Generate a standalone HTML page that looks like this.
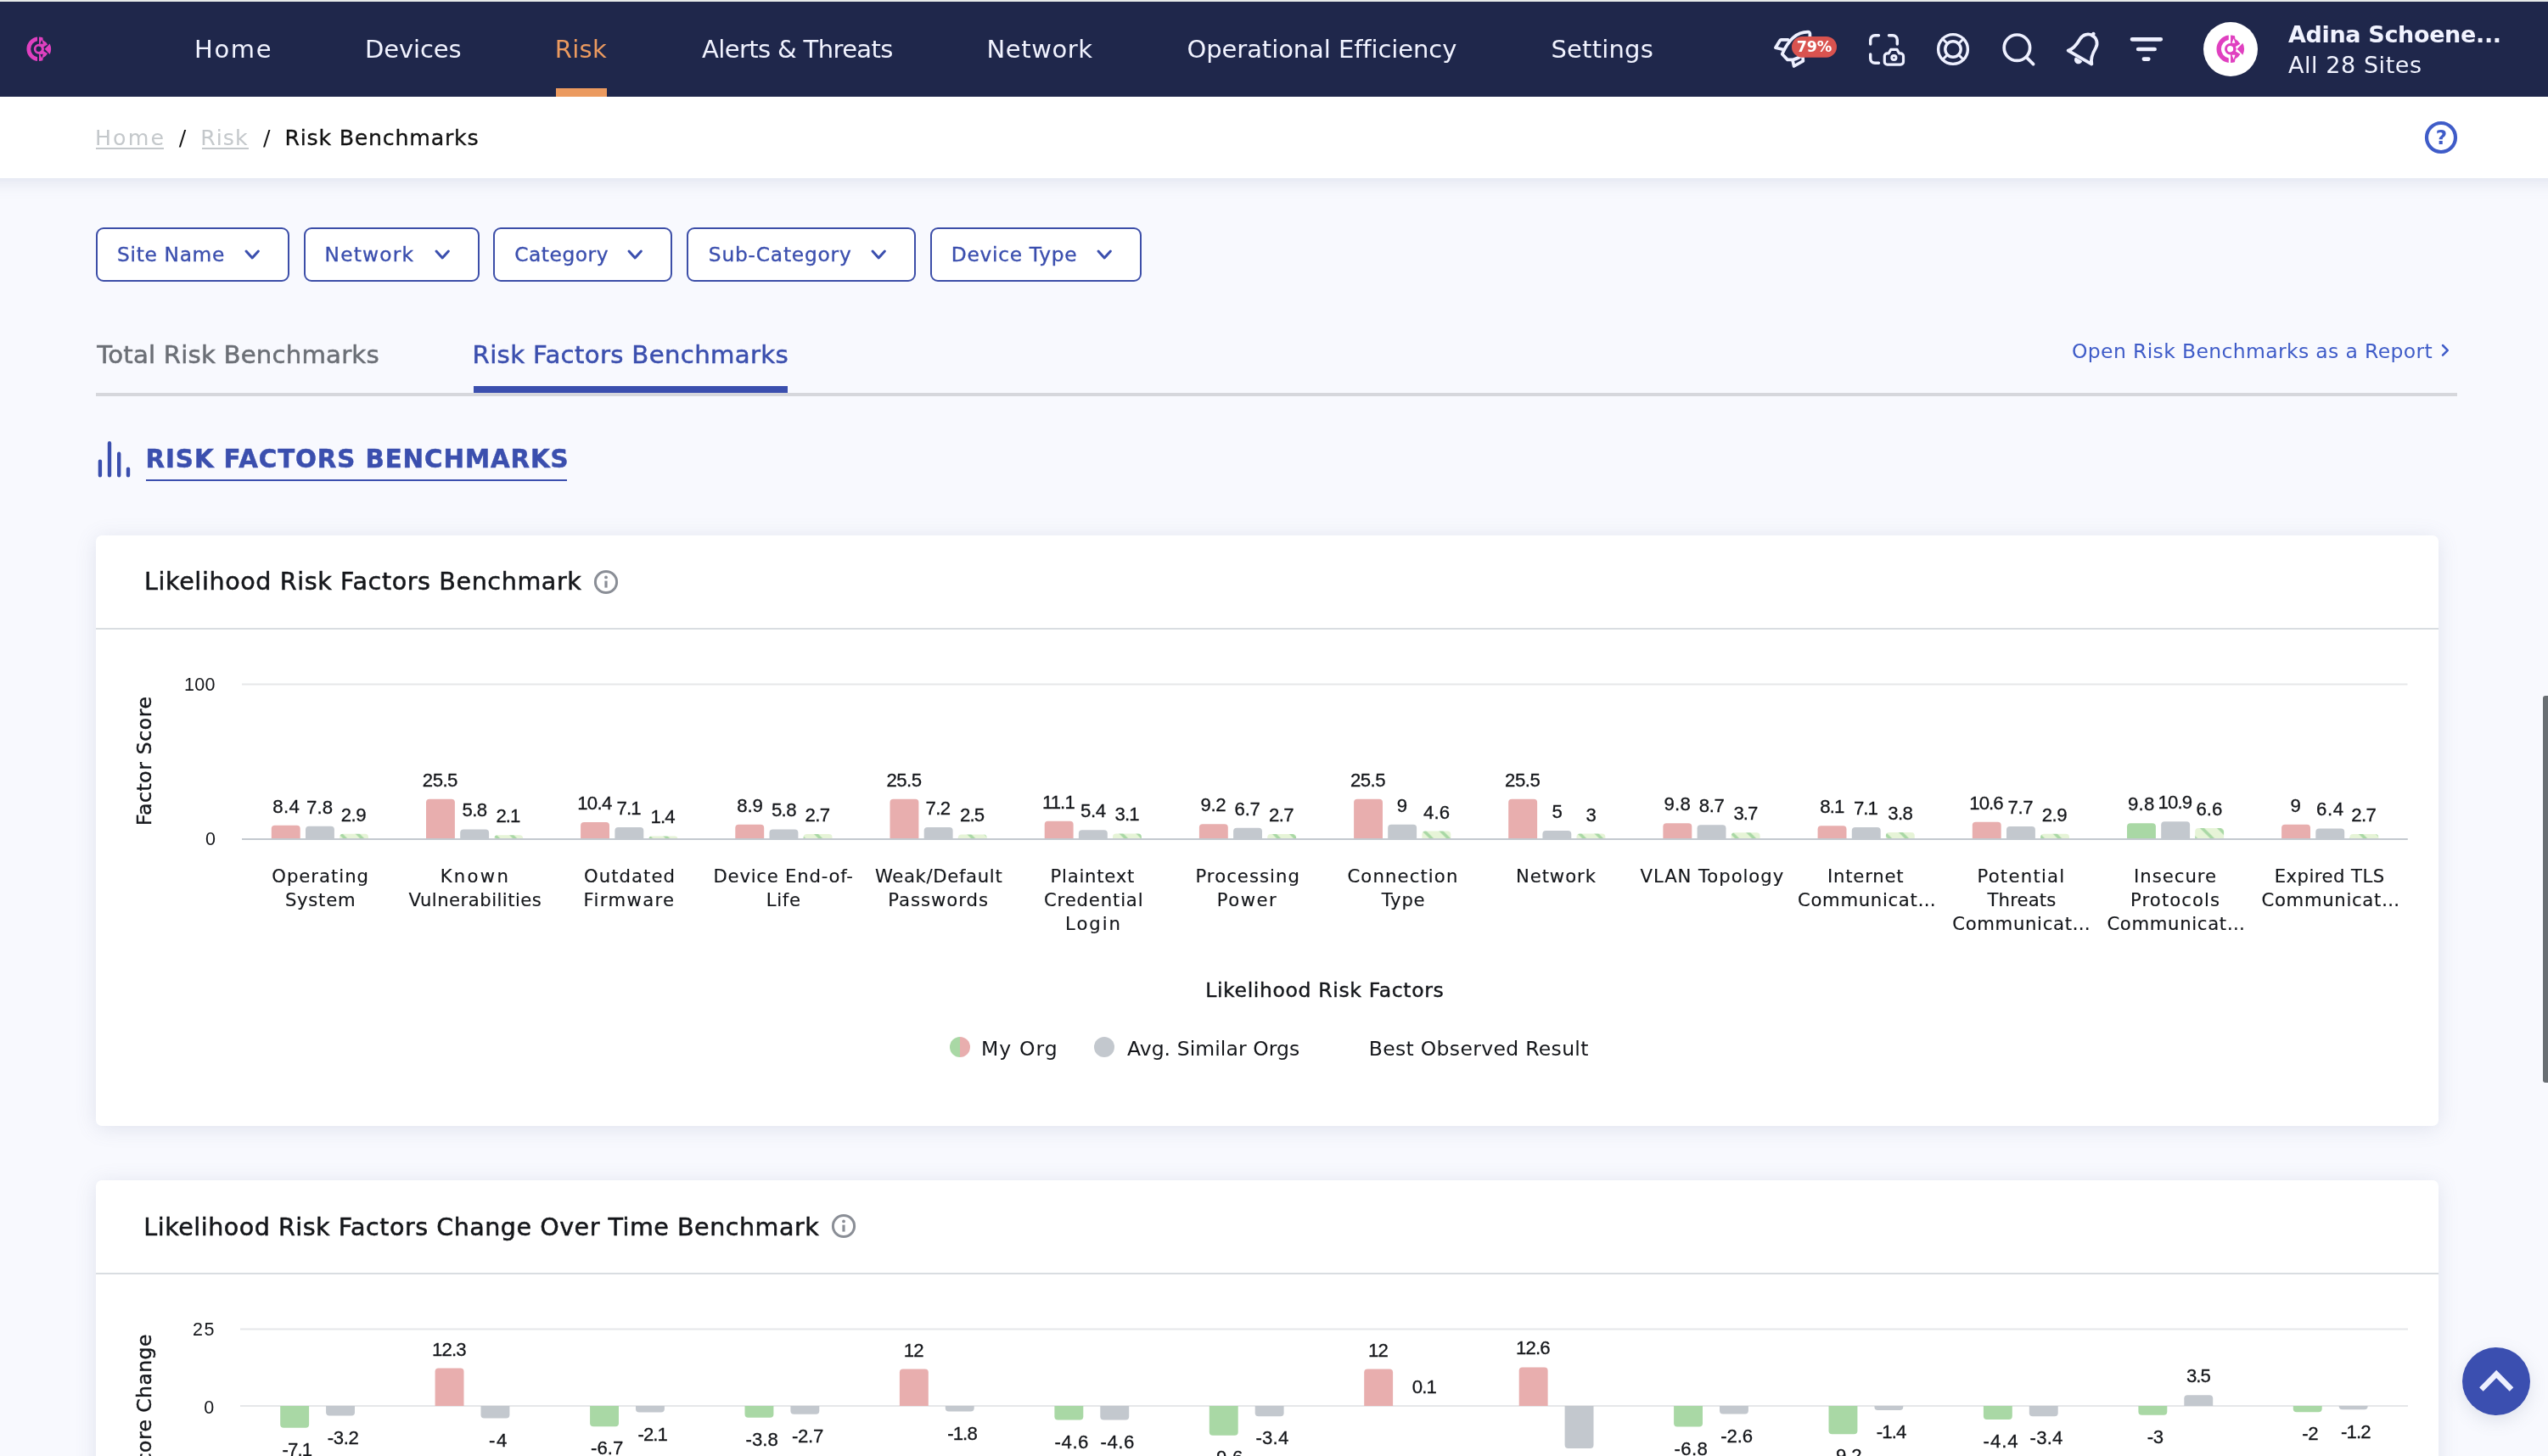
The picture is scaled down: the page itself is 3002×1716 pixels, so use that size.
<!DOCTYPE html>
<html lang="en"><head><meta charset="utf-8"><title>Risk Benchmarks</title>
<style>
*{box-sizing:border-box;margin:0;padding:0}
html,body{width:3002px;height:1716px;overflow:hidden}
body{position:relative;background:#f8f9fe;font-family:"DejaVu Sans", "Liberation Sans", sans-serif;color:#14161a}
.abs,.t,i,.fbtn,.avatar{position:absolute;display:block}
.t{white-space:nowrap;line-height:1;font-weight:400;font-style:normal;text-decoration:none;margin:0}
i{font-style:normal}
.app{position:absolute;left:0;top:0;width:3002px;height:1716px;will-change:transform}
.topstrip{position:absolute;left:0;top:0;width:3002px;height:2px;background:#e6eae9}
header.nav{z-index:3;position:absolute;left:0;top:2px;width:3002px;height:112px;background:#1f274b}
.navbar-active{background:#eb9a5f}
.logo{color:#e040c0}
.avatar{width:64px;height:64px;border-radius:50%;background:#fff}
.crumbs{position:absolute;left:0;top:114px;width:3002px;height:96px;background:#fff;z-index:2}
.crumbs::after{content:"";position:absolute;left:-80px;right:-80px;top:0;bottom:0;box-shadow:0 3px 20px rgba(100,115,160,.18);z-index:-1}
.ul{height:2.2px;background:#c4c8cb}
.fbtn{height:63.5px;border:2.2px solid #3c4ea8;border-radius:9px;background:#fff;font-family:inherit;cursor:pointer}
.fbtn .t,.fbtn .abs{margin-left:-2.2px;margin-top:-2.2px}
.tabline{height:4px;background:#d6d7dc}
.tabon{height:8px;background:#3b4fae}
.card{position:absolute;background:#fff;border-radius:7px;box-shadow:0 3px 24px rgba(100,110,150,.16)}
.divider{left:0;width:100%;height:2px;background:#d9dde1}
.lg{width:24px;height:24px;border-radius:50%}
.rot{transform-origin:0 0;transform:rotate(-90deg)}
.totop{box-shadow:0 6px 20px rgba(100,110,140,.17);position:absolute;left:2901px;top:1588px;width:80px;height:80px;border-radius:50%;background:#3b4fb0}
.sbthumb{position:absolute;left:2996px;top:820px;width:6px;height:456px;background:#696e73;border-radius:3px 0 0 3px}
</style></head>
<body>
<div class="app">
<div class="topstrip"></div>
<header class="nav">
<a class="t navlink" style="left:229.0px;top:42px;font-size:29px;letter-spacing:1.63px;color:#f1f3ff;">Home</a>
<a class="t navlink" style="left:430.0px;top:42px;font-size:29px;letter-spacing:-0.10px;color:#f1f3ff;">Devices</a>
<a class="t navlink active" style="left:653.7px;top:42px;font-size:29px;letter-spacing:0.33px;color:#eb9a5f;">Risk</a>
<a class="t navlink" style="left:827.0px;top:42px;font-size:29px;letter-spacing:-0.62px;color:#f1f3ff;">Alerts &amp; Threats</a>
<a class="t navlink" style="left:1162.6px;top:42px;font-size:29px;letter-spacing:0.55px;color:#f1f3ff;">Network</a>
<a class="t navlink" style="left:1398.5px;top:42px;font-size:29px;letter-spacing:-0.08px;color:#f1f3ff;">Operational Efficiency</a>
<a class="t navlink" style="left:1827.4px;top:42px;font-size:29px;letter-spacing:0.21px;color:#f1f3ff;">Settings</a>
<i class="navbar-active" style="left:654.6px;top:102px;width:60.4px;height:10px"></i>
<svg class="abs logo" style="left:31.2px;top:41.2px" width="29.5" height="29.5" viewBox="0 0 34 34" fill="currentColor"><path d="M15,.62A16.5,16.5 0 0 0 15,33.38L15,27.9A11.1,11.1 0 0 1 15,6.1Z"/><circle cx="17" cy="17" r="5.3" fill="none" stroke="currentColor" stroke-width="3.1"/><path fill-rule="evenodd" d="M17.3,.5A16.5,16.5 0 0 1 22.3,1.37L22.83,5.05A13.3,13.3 0 0 1 28.85,10.96L23.3,14.3A6.85,6.85 0 0 1 23.3,19.7L28.85,23.04A13.3,13.3 0 0 1 22.83,28.95L22.3,32.63A16.5,16.5 0 0 1 17.3,33.5Z M21,4.6L18.8,9.9 22.8,10Z M21,29.4L18.8,24.1 22.8,24Z M17.3,13.27A3.75,3.75 0 0 1 17.3,20.73Z"/><path d="M25,17L31.83,9.77A16.5,16.5 0 0 1 31.83,24.23Z"/></svg>
<svg class="abs" style="left:2080px;top:0" width="500" height="112" viewBox="2080 2 500 112">
<g fill="none" stroke="#eef0ff" stroke-width="3.4" stroke-linecap="round" stroke-linejoin="round">
<!-- rocket -->
<g stroke-width="3.7">
<path d="M2132.4,44V39.7a2.1,2.1 0 0 0 -2.1,-2.1C2117.5,37.4 2107.5,46 2099.7,63.8L2106,70.4H2112.5C2121,68.5 2128,62 2131,52"/>
<path d="M2106.6,46.8H2098.6a1.7,1.7 0 0 0 -1.5,.9L2091.9,56.2L2100.6,58.2"/>
<path d="M2112,70.8L2113.6,78L2124.4,71.8L2124,66.5"/>
</g>
<!-- scan camera -->
<path d="M2203.7,52v-5a5.3,5.3 0 0 1 5.3,-5.3h4.5M2225.5,41.7h4.5a5.3,5.3 0 0 1 5.3,5.3v5M2203.7,64v5a5.3,5.3 0 0 0 5.3,5.3h4.5"/>
<path d="M2220.3,66.2a3.4,3.4 0 0 1 3.4,-3.4h1.6l2.4,-4.4h7.4l2.4,4.4h1.6a3.4,3.4 0 0 1 3.4,3.4v6.6a3.4,3.4 0 0 1 -3.4,3.4h-15.4a3.4,3.4 0 0 1 -3.4,-3.4z" stroke-width="3.2"/>
<circle cx="2231.4" cy="68" r="2.6" stroke-width="3"/>
<!-- lifebuoy -->
<circle cx="2301" cy="58" r="17.4"/><circle cx="2301" cy="58" r="9.2"/>
<path d="M2288.7,45.7l5.8,5.8M2313.3,45.7l-5.8,5.8M2288.7,70.3l5.8,-5.8M2313.3,70.3l-5.8,-5.8" stroke-width="3"/>
<!-- search -->
<circle cx="2376.4" cy="56.2" r="15.2" stroke-width="3.7"/><path d="M2387.6,67.6l8,8" stroke-width="3.7"/>
<!-- bell -->
<g transform="translate(2457.5,55.4) rotate(30)" stroke-width="3.8">
<path d="M-16,14C-11.5,9.5 -10.6,2 -10.6,-5a10.6,10.6 0 0 1 21.2,0C10.6,2 11.5,9.5 16,14Z"/>
<path d="M0,-15.6v-2.2" stroke-width="4.4"/>
<path d="M-3.6,17.6a3.6,3.4 0 0 0 7.2,0Z" fill="#eef0ff" stroke-width="2.4"/>
</g>
<!-- filter -->
<path d="M2512,46.3h33.8M2519.2,58h19.4M2525.9,69.6h5.4" stroke-width="4.7"/>
</g>
<rect x="2111" y="43" width="53" height="24.7" rx="12.3" fill="#d9534f"/>
</svg>
<span class="t badge" style="left:2116.7px;top:45px;font-size:17.5px;letter-spacing:-0.18px;font-weight:700;color:#fff;">79%</span>
<span class="avatar" style="left:2596px;top:24px"></span>
<svg class="abs logo" style="left:2611.3px;top:39.4px" width="33.5" height="33.5" viewBox="0 0 34 34" fill="currentColor"><path d="M15,.62A16.5,16.5 0 0 0 15,33.38L15,27.9A11.1,11.1 0 0 1 15,6.1Z"/><circle cx="17" cy="17" r="5.3" fill="none" stroke="currentColor" stroke-width="3.1"/><path fill-rule="evenodd" d="M17.3,.5A16.5,16.5 0 0 1 22.3,1.37L22.83,5.05A13.3,13.3 0 0 1 28.85,10.96L23.3,14.3A6.85,6.85 0 0 1 23.3,19.7L28.85,23.04A13.3,13.3 0 0 1 22.83,28.95L22.3,32.63A16.5,16.5 0 0 1 17.3,33.5Z M21,4.6L18.8,9.9 22.8,10Z M21,29.4L18.8,24.1 22.8,24Z M17.3,13.27A3.75,3.75 0 0 1 17.3,20.73Z"/><path d="M25,17L31.83,9.77A16.5,16.5 0 0 1 31.83,24.23Z"/></svg>
<span class="t uname" style="left:2696.0px;top:25px;font-size:27px;letter-spacing:-0.34px;font-weight:700;color:#f1f3ff;">Adina Schoene...</span>
<span class="t usite" style="left:2696.0px;top:61px;font-size:27px;letter-spacing:0.56px;color:#f1f3ff;">All 28 Sites</span>
</header>
<div class="crumbs">
<a class="t crumb" style="left:112.0px;top:36px;font-size:25.3px;letter-spacing:2.09px;color:#c4c8cb;">Home</a>
<i class="ul" style="left:113px;top:59.5px;width:80px"></i>
<span class="t sep" style="left:210.7px;top:36px;font-size:25.3px;color:#111;">/</span>
<a class="t crumb" style="left:236.2px;top:36px;font-size:25.3px;letter-spacing:1.01px;color:#c4c8cb;">Risk</a>
<i class="ul" style="left:237.5px;top:59.5px;width:55px"></i>
<span class="t sep" style="left:309.9px;top:36px;font-size:25.3px;color:#111;">/</span>
<span class="t cur" style="left:335.5px;top:36px;font-size:25.3px;letter-spacing:0.74px;color:#111;-webkit-text-stroke:0.3px currentColor;">Risk Benchmarks</span>
<svg class="abs" style="left:2854px;top:26px" width="44" height="44" viewBox="2854 140 44 44"><circle cx="2876" cy="162" r="17" fill="none" stroke="#3f5cc8" stroke-width="4.2"/></svg>
<span class="t q" style="left:2869.7px;top:37px;font-size:23px;font-weight:700;color:#3f5cc8;">?</span>
</div>
<main>
<button class="fbtn" style="left:113px;top:268px;width:228px"><span class="t" style="left:25.3px;top:20px;font-size:23.3px;letter-spacing:0.66px;color:#3b4fae;-webkit-text-stroke:0.35px currentColor;">Site Name</span>
<svg class="abs" style="left:174.0px;top:25.4px" width="20.4" height="14.0" viewBox="-3 -3 20.4 14.0"><path d="M0,0L7.2,8L14.4,0" fill="none" stroke="#3b4fae" stroke-width="3" stroke-linecap="round" stroke-linejoin="round"/></svg></button>
<button class="fbtn" style="left:357.5px;top:268px;width:207.0px"><span class="t" style="left:25.3px;top:20px;font-size:23.3px;letter-spacing:1.17px;color:#3b4fae;-webkit-text-stroke:0.35px currentColor;">Network</span>
<svg class="abs" style="left:153.8px;top:25.4px" width="20.4" height="14.0" viewBox="-3 -3 20.4 14.0"><path d="M0,0L7.2,8L14.4,0" fill="none" stroke="#3b4fae" stroke-width="3" stroke-linecap="round" stroke-linejoin="round"/></svg></button>
<button class="fbtn" style="left:581px;top:268px;width:211px"><span class="t" style="left:25.4px;top:20px;font-size:23.3px;letter-spacing:0.55px;color:#3b4fae;-webkit-text-stroke:0.35px currentColor;">Category</span>
<svg class="abs" style="left:157.6px;top:25.4px" width="20.4" height="14.0" viewBox="-3 -3 20.4 14.0"><path d="M0,0L7.2,8L14.4,0" fill="none" stroke="#3b4fae" stroke-width="3" stroke-linecap="round" stroke-linejoin="round"/></svg></button>
<button class="fbtn" style="left:809px;top:268px;width:269.5px"><span class="t" style="left:26.0px;top:20px;font-size:23.3px;letter-spacing:0.80px;color:#3b4fae;-webkit-text-stroke:0.35px currentColor;">Sub-Category</span>
<svg class="abs" style="left:215.9px;top:25.4px" width="20.4" height="14.0" viewBox="-3 -3 20.4 14.0"><path d="M0,0L7.2,8L14.4,0" fill="none" stroke="#3b4fae" stroke-width="3" stroke-linecap="round" stroke-linejoin="round"/></svg></button>
<button class="fbtn" style="left:1095.5px;top:268px;width:249.0px"><span class="t" style="left:25.5px;top:20px;font-size:23.3px;letter-spacing:0.71px;color:#3b4fae;-webkit-text-stroke:0.35px currentColor;">Device Type</span>
<svg class="abs" style="left:195.5px;top:25.4px" width="20.4" height="14.0" viewBox="-3 -3 20.4 14.0"><path d="M0,0L7.2,8L14.4,0" fill="none" stroke="#3b4fae" stroke-width="3" stroke-linecap="round" stroke-linejoin="round"/></svg></button>
<a class="t tab" style="left:114.2px;top:404px;font-size:29.2px;letter-spacing:0.19px;color:#6b6f76;-webkit-text-stroke:0.5px currentColor;">Total Risk Benchmarks</a>
<a class="t tab on" style="left:556.6px;top:404px;font-size:29.2px;letter-spacing:0.32px;color:#3b4fae;-webkit-text-stroke:0.5px currentColor;">Risk Factors Benchmarks</a>
<i class="tabline" style="left:113px;top:463px;width:2782px"></i>
<i class="tabon" style="left:558px;top:455px;width:370px"></i>
<a class="t rlink" style="left:2441.0px;top:403px;font-size:23.5px;letter-spacing:0.35px;color:#3f5cc8;">Open Risk Benchmarks as a Report</a>
<svg class="abs" style="left:2874px;top:403px" width="14" height="20" viewBox="2874 403 14 20"><path d="M2878,407l5.8,5.8l-5.8,5.8" fill="none" stroke="#3f5cc8" stroke-width="2.5" stroke-linecap="round" stroke-linejoin="round"/></svg>
<svg class="abs" style="left:112px;top:516px" width="46" height="50" viewBox="112 516 46 50"><path d="M117.9,543.6V560.2M129,522.2V560.2M140.2,534.8V560.2M151,552.6V560.2" fill="none" stroke="#3b4fae" stroke-width="4.4" stroke-linecap="round"/></svg>
<h1 class="t h1" style="left:171.6px;top:527px;font-size:29.3px;letter-spacing:0.91px;font-weight:700;color:#3b4fae;-webkit-text-stroke:0.5px currentColor;">RISK FACTORS BENCHMARKS</h1>
<i class="abs" style="left:172.2px;top:564.6px;width:496px;height:2.2px;background:#3b4fae"></i>
<section class="card" style="left:113px;top:631px;width:2760px;height:696px">
<svg class="abs chart" style="left:0;top:0" width="2760" height="696" viewBox="113 631 2760 696">
<defs><pattern id="hatch" width="20" height="20" patternUnits="userSpaceOnUse" patternTransform="translate(0,1.5)"><rect width="20" height="20" fill="#e6f4d7"/><path d="M-5,-5L25,25M-5,15L5,25M15,-5L25,5" stroke="#a9d8a5" stroke-width="3.7"/></pattern></defs>
<path d="M285,806.5H2836.5" stroke="#e6e7e9" stroke-width="2"/>
<path d="M319.8,988.6V976.7a4.0,4.0 0 0 1 4.0,-4.0h25.9a4.0,4.0 0 0 1 4.0,4.0V988.6z" fill="#e8aeae"/>
<path d="M360.0,988.6V977.8a4.0,4.0 0 0 1 4.0,-4.0h25.9a4.0,4.0 0 0 1 4.0,4.0V988.6z" fill="#c3c8ce"/>
<path d="M400.1,988.6V986.7a4.0,4.0 0 0 1 4.0,-4.0h25.9a4.0,4.0 0 0 1 4.0,4.0V988.6z" fill="url(#hatch)"/>
<path d="M502.0,988.6V945.7a4.0,4.0 0 0 1 4.0,-4.0h25.9a4.0,4.0 0 0 1 4.0,4.0V988.6z" fill="#e8aeae"/>
<path d="M542.2,988.6V981.5a4.0,4.0 0 0 1 4.0,-4.0h25.9a4.0,4.0 0 0 1 4.0,4.0V988.6z" fill="#c3c8ce"/>
<path d="M582.3,988.6V988.2a4.0,4.0 0 0 1 4.0,-4.0h25.9a4.0,4.0 0 0 1 4.0,4.0V988.6z" fill="url(#hatch)"/>
<path d="M684.1,988.6V973.1a4.0,4.0 0 0 1 4.0,-4.0h25.9a4.0,4.0 0 0 1 4.0,4.0V988.6z" fill="#e8aeae"/>
<path d="M724.4,988.6V979.1a4.0,4.0 0 0 1 4.0,-4.0h25.9a4.0,4.0 0 0 1 4.0,4.0V988.6z" fill="#c3c8ce"/>
<path d="M764.5,988.6V988.6a3.1,3.1 0 0 1 3.1,-3.1h27.6a3.1,3.1 0 0 1 3.1,3.1V988.6z" fill="url(#hatch)"/>
<path d="M866.3,988.6V975.8a4.0,4.0 0 0 1 4.0,-4.0h25.9a4.0,4.0 0 0 1 4.0,4.0V988.6z" fill="#e8aeae"/>
<path d="M906.5,988.6V981.5a4.0,4.0 0 0 1 4.0,-4.0h25.9a4.0,4.0 0 0 1 4.0,4.0V988.6z" fill="#c3c8ce"/>
<path d="M946.6,988.6V987.1a4.0,4.0 0 0 1 4.0,-4.0h25.9a4.0,4.0 0 0 1 4.0,4.0V988.6z" fill="url(#hatch)"/>
<path d="M1048.5,988.6V945.7a4.0,4.0 0 0 1 4.0,-4.0h25.9a4.0,4.0 0 0 1 4.0,4.0V988.6z" fill="#e8aeae"/>
<path d="M1088.7,988.6V978.9a4.0,4.0 0 0 1 4.0,-4.0h25.9a4.0,4.0 0 0 1 4.0,4.0V988.6z" fill="#c3c8ce"/>
<path d="M1128.8,988.6V987.5a4.0,4.0 0 0 1 4.0,-4.0h25.9a4.0,4.0 0 0 1 4.0,4.0V988.6z" fill="url(#hatch)"/>
<path d="M1230.7,988.6V971.8a4.0,4.0 0 0 1 4.0,-4.0h25.9a4.0,4.0 0 0 1 4.0,4.0V988.6z" fill="#e8aeae"/>
<path d="M1270.9,988.6V982.2a4.0,4.0 0 0 1 4.0,-4.0h25.9a4.0,4.0 0 0 1 4.0,4.0V988.6z" fill="#c3c8ce"/>
<path d="M1311.0,988.6V986.4a4.0,4.0 0 0 1 4.0,-4.0h25.9a4.0,4.0 0 0 1 4.0,4.0V988.6z" fill="url(#hatch)"/>
<path d="M1412.9,988.6V975.3a4.0,4.0 0 0 1 4.0,-4.0h25.9a4.0,4.0 0 0 1 4.0,4.0V988.6z" fill="#e8aeae"/>
<path d="M1453.1,988.6V979.8a4.0,4.0 0 0 1 4.0,-4.0h25.9a4.0,4.0 0 0 1 4.0,4.0V988.6z" fill="#c3c8ce"/>
<path d="M1493.2,988.6V987.1a4.0,4.0 0 0 1 4.0,-4.0h25.9a4.0,4.0 0 0 1 4.0,4.0V988.6z" fill="url(#hatch)"/>
<path d="M1595.1,988.6V945.7a4.0,4.0 0 0 1 4.0,-4.0h25.9a4.0,4.0 0 0 1 4.0,4.0V988.6z" fill="#e8aeae"/>
<path d="M1635.2,988.6V975.7a4.0,4.0 0 0 1 4.0,-4.0h25.9a4.0,4.0 0 0 1 4.0,4.0V988.6z" fill="#c3c8ce"/>
<path d="M1675.4,988.6V983.6a4.0,4.0 0 0 1 4.0,-4.0h25.9a4.0,4.0 0 0 1 4.0,4.0V988.6z" fill="url(#hatch)"/>
<path d="M1777.2,988.6V945.7a4.0,4.0 0 0 1 4.0,-4.0h25.9a4.0,4.0 0 0 1 4.0,4.0V988.6z" fill="#e8aeae"/>
<path d="M1817.4,988.6V982.9a4.0,4.0 0 0 1 4.0,-4.0h25.9a4.0,4.0 0 0 1 4.0,4.0V988.6z" fill="#c3c8ce"/>
<path d="M1857.5,988.6V986.6a4.0,4.0 0 0 1 4.0,-4.0h25.9a4.0,4.0 0 0 1 4.0,4.0V988.6z" fill="url(#hatch)"/>
<path d="M1959.4,988.6V974.2a4.0,4.0 0 0 1 4.0,-4.0h25.9a4.0,4.0 0 0 1 4.0,4.0V988.6z" fill="#e8aeae"/>
<path d="M1999.6,988.6V976.2a4.0,4.0 0 0 1 4.0,-4.0h25.9a4.0,4.0 0 0 1 4.0,4.0V988.6z" fill="#c3c8ce"/>
<path d="M2039.7,988.6V985.3a4.0,4.0 0 0 1 4.0,-4.0h25.9a4.0,4.0 0 0 1 4.0,4.0V988.6z" fill="url(#hatch)"/>
<path d="M2141.6,988.6V977.3a4.0,4.0 0 0 1 4.0,-4.0h25.9a4.0,4.0 0 0 1 4.0,4.0V988.6z" fill="#e8aeae"/>
<path d="M2181.8,988.6V979.1a4.0,4.0 0 0 1 4.0,-4.0h25.9a4.0,4.0 0 0 1 4.0,4.0V988.6z" fill="#c3c8ce"/>
<path d="M2221.9,988.6V985.1a4.0,4.0 0 0 1 4.0,-4.0h25.9a4.0,4.0 0 0 1 4.0,4.0V988.6z" fill="url(#hatch)"/>
<path d="M2323.8,988.6V972.8a4.0,4.0 0 0 1 4.0,-4.0h25.9a4.0,4.0 0 0 1 4.0,4.0V988.6z" fill="#e8aeae"/>
<path d="M2364.0,988.6V978.0a4.0,4.0 0 0 1 4.0,-4.0h25.9a4.0,4.0 0 0 1 4.0,4.0V988.6z" fill="#c3c8ce"/>
<path d="M2404.1,988.6V986.7a4.0,4.0 0 0 1 4.0,-4.0h25.9a4.0,4.0 0 0 1 4.0,4.0V988.6z" fill="url(#hatch)"/>
<path d="M2506.0,988.6V974.2a4.0,4.0 0 0 1 4.0,-4.0h25.9a4.0,4.0 0 0 1 4.0,4.0V988.6z" fill="#a9d8a5"/>
<path d="M2546.2,988.6V972.2a4.0,4.0 0 0 1 4.0,-4.0h25.9a4.0,4.0 0 0 1 4.0,4.0V988.6z" fill="#c3c8ce"/>
<path d="M2586.2,988.6V980.0a4.0,4.0 0 0 1 4.0,-4.0h25.9a4.0,4.0 0 0 1 4.0,4.0V988.6z" fill="url(#hatch)"/>
<path d="M2688.1,988.6V975.7a4.0,4.0 0 0 1 4.0,-4.0h25.9a4.0,4.0 0 0 1 4.0,4.0V988.6z" fill="#e8aeae"/>
<path d="M2728.3,988.6V980.4a4.0,4.0 0 0 1 4.0,-4.0h25.9a4.0,4.0 0 0 1 4.0,4.0V988.6z" fill="#c3c8ce"/>
<path d="M2768.4,988.6V987.1a4.0,4.0 0 0 1 4.0,-4.0h25.9a4.0,4.0 0 0 1 4.0,4.0V988.6z" fill="url(#hatch)"/>
<path d="M285,989H2836.8" stroke="#c3c9cf" stroke-width="2"/>
</svg>
<h2 class="t ctitle" style="left:57.0px;top:40px;font-size:28.6px;letter-spacing:0.59px;color:#14161a;-webkit-text-stroke:0.5px currentColor;">Likelihood Risk Factors Benchmark</h2>
<svg class="abs" style="left:585.3px;top:38.5px" width="32" height="32" viewBox="-16 -16 32 32"><circle r="12.6" fill="none" stroke="#8a8e96" stroke-width="3"/><circle cy="-5.6" r="1.9" fill="#8a8e96"/><path d="M0,-1.4V6.6" stroke="#8a8e96" stroke-width="3.2" stroke-linecap="butt"/></svg>
<i class="divider" style="top:109px"></i>
<span class="t dl" style="left:208.2px;top:309px;font-size:22.2px;letter-spacing:0.38px;color:#14161a;-webkit-text-stroke:0.3px currentColor;font-family:'Liberation Sans',sans-serif;">8.4</span>
<span class="t dl" style="left:248.1px;top:310px;font-size:22.2px;letter-spacing:0.10px;color:#14161a;-webkit-text-stroke:0.3px currentColor;font-family:'Liberation Sans',sans-serif;">7.8</span>
<span class="t dl" style="left:288.7px;top:319px;font-size:22.2px;letter-spacing:-0.41px;color:#14161a;-webkit-text-stroke:0.3px currentColor;font-family:'Liberation Sans',sans-serif;">2.9</span>
<span class="t xl" style="left:207.3px;top:391px;font-size:21.2px;letter-spacing:0.97px;color:#14161a;-webkit-text-stroke:0.15px currentColor;">Operating</span>
<span class="t xl" style="left:222.9px;top:419px;font-size:21.2px;letter-spacing:0.73px;color:#14161a;-webkit-text-stroke:0.15px currentColor;">System</span>
<span class="t dl" style="left:384.8px;top:278px;font-size:22.2px;letter-spacing:-0.51px;color:#14161a;-webkit-text-stroke:0.3px currentColor;font-family:'Liberation Sans',sans-serif;">25.5</span>
<span class="t dl" style="left:431.5px;top:313px;font-size:22.2px;letter-spacing:-0.62px;color:#14161a;-webkit-text-stroke:0.3px currentColor;font-family:'Liberation Sans',sans-serif;">5.8</span>
<span class="t dl" style="left:471.4px;top:320px;font-size:22.2px;letter-spacing:-0.90px;color:#14161a;-webkit-text-stroke:0.3px currentColor;font-family:'Liberation Sans',sans-serif;">2.1</span>
<span class="t xl" style="left:405.7px;top:391px;font-size:21.2px;letter-spacing:2.27px;color:#14161a;-webkit-text-stroke:0.15px currentColor;">Known</span>
<span class="t xl" style="left:368.4px;top:419px;font-size:21.2px;letter-spacing:0.47px;color:#14161a;-webkit-text-stroke:0.15px currentColor;">Vulnerabilities</span>
<span class="t dl" style="left:567.2px;top:305px;font-size:22.2px;letter-spacing:-0.66px;color:#14161a;-webkit-text-stroke:0.3px currentColor;font-family:'Liberation Sans',sans-serif;">10.4</span>
<span class="t dl" style="left:613.5px;top:311px;font-size:22.2px;letter-spacing:-0.90px;color:#14161a;-webkit-text-stroke:0.3px currentColor;font-family:'Liberation Sans',sans-serif;">7.1</span>
<span class="t dl" style="left:653.6px;top:321px;font-size:22.2px;letter-spacing:-0.90px;color:#14161a;-webkit-text-stroke:0.3px currentColor;font-family:'Liberation Sans',sans-serif;">1.4</span>
<span class="t xl" style="left:574.9px;top:391px;font-size:21.2px;letter-spacing:1.07px;color:#14161a;-webkit-text-stroke:0.15px currentColor;">Outdated</span>
<span class="t xl" style="left:574.4px;top:419px;font-size:21.2px;letter-spacing:1.38px;color:#14161a;-webkit-text-stroke:0.15px currentColor;">Firmware</span>
<span class="t dl" style="left:755.3px;top:308px;font-size:22.2px;letter-spacing:-0.19px;color:#14161a;-webkit-text-stroke:0.3px currentColor;font-family:'Liberation Sans',sans-serif;">8.9</span>
<span class="t dl" style="left:795.9px;top:313px;font-size:22.2px;letter-spacing:-0.62px;color:#14161a;-webkit-text-stroke:0.3px currentColor;font-family:'Liberation Sans',sans-serif;">5.8</span>
<span class="t dl" style="left:835.5px;top:319px;font-size:22.2px;letter-spacing:-0.62px;color:#14161a;-webkit-text-stroke:0.3px currentColor;font-family:'Liberation Sans',sans-serif;">2.7</span>
<span class="t xl" style="left:727.5px;top:391px;font-size:21.2px;letter-spacing:0.77px;color:#14161a;-webkit-text-stroke:0.15px currentColor;">Device End-of-</span>
<span class="t xl" style="left:789.8px;top:419px;font-size:21.2px;letter-spacing:0.68px;color:#14161a;-webkit-text-stroke:0.15px currentColor;">Life</span>
<span class="t dl" style="left:931.4px;top:278px;font-size:22.2px;letter-spacing:-0.51px;color:#14161a;-webkit-text-stroke:0.3px currentColor;font-family:'Liberation Sans',sans-serif;">25.5</span>
<span class="t dl" style="left:977.6px;top:311px;font-size:22.2px;letter-spacing:-0.62px;color:#14161a;-webkit-text-stroke:0.3px currentColor;font-family:'Liberation Sans',sans-serif;">7.2</span>
<span class="t dl" style="left:1017.9px;top:319px;font-size:22.2px;letter-spacing:-0.84px;color:#14161a;-webkit-text-stroke:0.3px currentColor;font-family:'Liberation Sans',sans-serif;">2.5</span>
<span class="t xl" style="left:917.9px;top:391px;font-size:21.2px;letter-spacing:0.66px;color:#14161a;-webkit-text-stroke:0.15px currentColor;">Weak/Default</span>
<span class="t xl" style="left:933.2px;top:419px;font-size:21.2px;letter-spacing:0.98px;color:#14161a;-webkit-text-stroke:0.15px currentColor;">Passwords</span>
<span class="t dl" style="left:1114.9px;top:304px;font-size:22.2px;letter-spacing:-0.90px;color:#14161a;-webkit-text-stroke:0.3px currentColor;font-family:'Liberation Sans',sans-serif;">11.1</span>
<span class="t dl" style="left:1160.0px;top:314px;font-size:22.2px;letter-spacing:-0.34px;color:#14161a;-webkit-text-stroke:0.3px currentColor;font-family:'Liberation Sans',sans-serif;">5.4</span>
<span class="t dl" style="left:1200.6px;top:318px;font-size:22.2px;letter-spacing:-0.90px;color:#14161a;-webkit-text-stroke:0.3px currentColor;font-family:'Liberation Sans',sans-serif;">3.1</span>
<span class="t xl" style="left:1124.6px;top:391px;font-size:21.2px;letter-spacing:0.74px;color:#14161a;-webkit-text-stroke:0.15px currentColor;">Plaintext</span>
<span class="t xl" style="left:1116.9px;top:419px;font-size:21.2px;letter-spacing:0.85px;color:#14161a;-webkit-text-stroke:0.15px currentColor;">Credential</span>
<span class="t xl" style="left:1142.1px;top:447px;font-size:21.2px;letter-spacing:1.92px;color:#14161a;-webkit-text-stroke:0.15px currentColor;">Login</span>
<span class="t dl" style="left:1301.5px;top:307px;font-size:22.2px;letter-spacing:-0.41px;color:#14161a;-webkit-text-stroke:0.3px currentColor;font-family:'Liberation Sans',sans-serif;">9.2</span>
<span class="t dl" style="left:1341.5px;top:312px;font-size:22.2px;letter-spacing:-0.19px;color:#14161a;-webkit-text-stroke:0.3px currentColor;font-family:'Liberation Sans',sans-serif;">6.7</span>
<span class="t dl" style="left:1382.0px;top:319px;font-size:22.2px;letter-spacing:-0.62px;color:#14161a;-webkit-text-stroke:0.3px currentColor;font-family:'Liberation Sans',sans-serif;">2.7</span>
<span class="t xl" style="left:1295.4px;top:391px;font-size:21.2px;letter-spacing:1.05px;color:#14161a;-webkit-text-stroke:0.15px currentColor;">Processing</span>
<span class="t xl" style="left:1320.8px;top:419px;font-size:21.2px;letter-spacing:1.49px;color:#14161a;-webkit-text-stroke:0.15px currentColor;">Power</span>
<span class="t dl" style="left:1477.9px;top:278px;font-size:22.2px;letter-spacing:-0.51px;color:#14161a;-webkit-text-stroke:0.3px currentColor;font-family:'Liberation Sans',sans-serif;">25.5</span>
<span class="t dl" style="left:1532.8px;top:308px;font-size:22.2px;color:#14161a;-webkit-text-stroke:0.3px currentColor;font-family:'Liberation Sans',sans-serif;">9</span>
<span class="t dl" style="left:1564.0px;top:316px;font-size:22.2px;letter-spacing:0.09px;color:#14161a;-webkit-text-stroke:0.3px currentColor;font-family:'Liberation Sans',sans-serif;">4.6</span>
<span class="t xl" style="left:1474.4px;top:391px;font-size:21.2px;letter-spacing:1.12px;color:#14161a;-webkit-text-stroke:0.15px currentColor;">Connection</span>
<span class="t xl" style="left:1514.7px;top:419px;font-size:21.2px;letter-spacing:0.76px;color:#14161a;-webkit-text-stroke:0.15px currentColor;">Type</span>
<span class="t dl" style="left:1660.1px;top:278px;font-size:22.2px;letter-spacing:-0.51px;color:#14161a;-webkit-text-stroke:0.3px currentColor;font-family:'Liberation Sans',sans-serif;">25.5</span>
<span class="t dl" style="left:1715.4px;top:315px;font-size:22.2px;color:#14161a;-webkit-text-stroke:0.3px currentColor;font-family:'Liberation Sans',sans-serif;">5</span>
<span class="t dl" style="left:1755.5px;top:319px;font-size:22.2px;color:#14161a;-webkit-text-stroke:0.3px currentColor;font-family:'Liberation Sans',sans-serif;">3</span>
<span class="t xl" style="left:1672.9px;top:391px;font-size:21.2px;letter-spacing:0.93px;color:#14161a;-webkit-text-stroke:0.15px currentColor;">Network</span>
<span class="t dl" style="left:1847.4px;top:306px;font-size:22.2px;letter-spacing:0.31px;color:#14161a;-webkit-text-stroke:0.3px currentColor;font-family:'Liberation Sans',sans-serif;">9.8</span>
<span class="t dl" style="left:1888.8px;top:308px;font-size:22.2px;letter-spacing:-0.40px;color:#14161a;-webkit-text-stroke:0.3px currentColor;font-family:'Liberation Sans',sans-serif;">8.7</span>
<span class="t dl" style="left:1929.4px;top:317px;font-size:22.2px;letter-spacing:-0.90px;color:#14161a;-webkit-text-stroke:0.3px currentColor;font-family:'Liberation Sans',sans-serif;">3.7</span>
<span class="t xl" style="left:1819.5px;top:391px;font-size:21.2px;letter-spacing:0.94px;color:#14161a;-webkit-text-stroke:0.15px currentColor;">VLAN Topology</span>
<span class="t dl" style="left:2031.2px;top:309px;font-size:22.2px;letter-spacing:-0.90px;color:#14161a;-webkit-text-stroke:0.3px currentColor;font-family:'Liberation Sans',sans-serif;">8.1</span>
<span class="t dl" style="left:2070.9px;top:311px;font-size:22.2px;letter-spacing:-0.90px;color:#14161a;-webkit-text-stroke:0.3px currentColor;font-family:'Liberation Sans',sans-serif;">7.1</span>
<span class="t dl" style="left:2111.3px;top:317px;font-size:22.2px;letter-spacing:-0.62px;color:#14161a;-webkit-text-stroke:0.3px currentColor;font-family:'Liberation Sans',sans-serif;">3.8</span>
<span class="t xl" style="left:2040.0px;top:391px;font-size:21.2px;letter-spacing:0.78px;color:#14161a;-webkit-text-stroke:0.15px currentColor;">Internet</span>
<span class="t xl" style="left:2005.0px;top:419px;font-size:21.2px;letter-spacing:0.67px;color:#14161a;-webkit-text-stroke:0.15px currentColor;">Communicat…</span>
<span class="t dl" style="left:2207.2px;top:305px;font-size:22.2px;letter-spacing:-0.90px;color:#14161a;-webkit-text-stroke:0.3px currentColor;font-family:'Liberation Sans',sans-serif;">10.6</span>
<span class="t dl" style="left:2252.6px;top:310px;font-size:22.2px;letter-spacing:-0.40px;color:#14161a;-webkit-text-stroke:0.3px currentColor;font-family:'Liberation Sans',sans-serif;">7.7</span>
<span class="t dl" style="left:2292.7px;top:319px;font-size:22.2px;letter-spacing:-0.41px;color:#14161a;-webkit-text-stroke:0.3px currentColor;font-family:'Liberation Sans',sans-serif;">2.9</span>
<span class="t xl" style="left:2216.4px;top:391px;font-size:21.2px;letter-spacing:1.25px;color:#14161a;-webkit-text-stroke:0.15px currentColor;">Potential</span>
<span class="t xl" style="left:2228.5px;top:419px;font-size:21.2px;letter-spacing:0.13px;color:#14161a;-webkit-text-stroke:0.15px currentColor;">Threats</span>
<span class="t xl" style="left:2187.2px;top:447px;font-size:21.2px;letter-spacing:0.67px;color:#14161a;-webkit-text-stroke:0.15px currentColor;">Communicat…</span>
<span class="t dl" style="left:2393.9px;top:306px;font-size:22.2px;letter-spacing:0.31px;color:#14161a;-webkit-text-stroke:0.3px currentColor;font-family:'Liberation Sans',sans-serif;">9.8</span>
<span class="t dl" style="left:2429.6px;top:304px;font-size:22.2px;letter-spacing:-0.90px;color:#14161a;-webkit-text-stroke:0.3px currentColor;font-family:'Liberation Sans',sans-serif;">10.9</span>
<span class="t dl" style="left:2474.5px;top:312px;font-size:22.2px;letter-spacing:0.02px;color:#14161a;-webkit-text-stroke:0.3px currentColor;font-family:'Liberation Sans',sans-serif;">6.6</span>
<span class="t xl" style="left:2401.1px;top:391px;font-size:21.2px;letter-spacing:0.98px;color:#14161a;-webkit-text-stroke:0.15px currentColor;">Insecure</span>
<span class="t xl" style="left:2397.1px;top:419px;font-size:21.2px;letter-spacing:1.06px;color:#14161a;-webkit-text-stroke:0.15px currentColor;">Protocols</span>
<span class="t xl" style="left:2369.4px;top:447px;font-size:21.2px;letter-spacing:0.67px;color:#14161a;-webkit-text-stroke:0.15px currentColor;">Communicat…</span>
<span class="t dl" style="left:2585.6px;top:308px;font-size:22.2px;color:#14161a;-webkit-text-stroke:0.3px currentColor;font-family:'Liberation Sans',sans-serif;">9</span>
<span class="t dl" style="left:2616.0px;top:312px;font-size:22.2px;letter-spacing:0.59px;color:#14161a;-webkit-text-stroke:0.3px currentColor;font-family:'Liberation Sans',sans-serif;">6.4</span>
<span class="t dl" style="left:2657.3px;top:319px;font-size:22.2px;letter-spacing:-0.62px;color:#14161a;-webkit-text-stroke:0.3px currentColor;font-family:'Liberation Sans',sans-serif;">2.7</span>
<span class="t xl" style="left:2566.8px;top:391px;font-size:21.2px;letter-spacing:0.44px;color:#14161a;-webkit-text-stroke:0.15px currentColor;">Expired TLS</span>
<span class="t xl" style="left:2551.5px;top:419px;font-size:21.2px;letter-spacing:0.67px;color:#14161a;-webkit-text-stroke:0.15px currentColor;">Communicat…</span>
<span class="t yl" style="left:104.0px;top:166px;font-size:21.5px;letter-spacing:0.34px;color:#14161a;font-family:'Liberation Sans',sans-serif;">100</span>
<span class="t yl" style="left:128.9px;top:348px;font-size:21.5px;color:#14161a;font-family:'Liberation Sans',sans-serif;">0</span>
<span class="t atitle" style="left:1307.2px;top:525px;font-size:23.5px;letter-spacing:0.65px;color:#14161a;-webkit-text-stroke:0.4px currentColor;">Likelihood Risk Factors</span>
<span class="abs lg" style="left:1005.9px;top:591.3px;background:linear-gradient(90deg,#a9d8a5 50%,#e8aeae 50%)"></span>
<span class="t lgt" style="left:1043.0px;top:594px;font-size:23.5px;letter-spacing:1.08px;color:#14161a;">My Org</span>
<span class="abs lg" style="left:1176.3px;top:591.3px;background:#c3c8ce"></span>
<span class="t lgt" style="left:1214.9px;top:594px;font-size:23.5px;letter-spacing:0.07px;color:#14161a;">Avg. Similar Orgs</span>
<span class="t lgt" style="left:1499.7px;top:594px;font-size:23.5px;letter-spacing:0.32px;color:#14161a;">Best Observed Result</span>
<span class="t rot" style="left:46.3px;top:342.3px;font-size:23.5px;letter-spacing:0.61px;-webkit-text-stroke:0.4px currentColor;color:#14161a">Factor Score</span>
</section>
<section class="card" style="left:113px;top:1391px;width:2760px;height:420px">
<svg class="abs chart" style="left:0;top:0" width="2760" height="330" viewBox="113 1391 2760 330">
<path d="M283,1566.4H2837M283,1657H2837" stroke="#e6e7e9" stroke-width="2"/>
<path d="M330.2,1657.0V1678.7a4.0,4.0 0 0 0 4.0,4.0h25.9a4.0,4.0 0 0 0 4.0,-4.0V1657.0z" fill="#a9d8a5"/>
<path d="M384.1,1657.0V1664.6a4.0,4.0 0 0 0 4.0,4.0h25.9a4.0,4.0 0 0 0 4.0,-4.0V1657.0z" fill="#c3c8ce"/>
<path d="M512.6,1657.0V1616.5a4.0,4.0 0 0 1 4.0,-4.0h25.9a4.0,4.0 0 0 1 4.0,4.0V1657.0z" fill="#e8aeae"/>
<path d="M566.5,1657.0V1667.5a4.0,4.0 0 0 0 4.0,4.0h25.9a4.0,4.0 0 0 0 4.0,-4.0V1657.0z" fill="#c3c8ce"/>
<path d="M695.1,1657.0V1677.2a4.0,4.0 0 0 0 4.0,4.0h25.9a4.0,4.0 0 0 0 4.0,-4.0V1657.0z" fill="#a9d8a5"/>
<path d="M749.0,1657.0V1660.6a4.0,4.0 0 0 0 4.0,4.0h25.9a4.0,4.0 0 0 0 4.0,-4.0V1657.0z" fill="#c3c8ce"/>
<path d="M877.5,1657.0V1666.7a4.0,4.0 0 0 0 4.0,4.0h25.9a4.0,4.0 0 0 0 4.0,-4.0V1657.0z" fill="#a9d8a5"/>
<path d="M931.4,1657.0V1662.8a4.0,4.0 0 0 0 4.0,4.0h25.9a4.0,4.0 0 0 0 4.0,-4.0V1657.0z" fill="#c3c8ce"/>
<path d="M1059.9,1657.0V1617.6a4.0,4.0 0 0 1 4.0,-4.0h25.9a4.0,4.0 0 0 1 4.0,4.0V1657.0z" fill="#e8aeae"/>
<path d="M1113.8,1657.0V1659.5a4.0,4.0 0 0 0 4.0,4.0h25.9a4.0,4.0 0 0 0 4.0,-4.0V1657.0z" fill="#c3c8ce"/>
<path d="M1242.4,1657.0V1669.6a4.0,4.0 0 0 0 4.0,4.0h25.9a4.0,4.0 0 0 0 4.0,-4.0V1657.0z" fill="#a9d8a5"/>
<path d="M1296.3,1657.0V1669.6a4.0,4.0 0 0 0 4.0,4.0h25.9a4.0,4.0 0 0 0 4.0,-4.0V1657.0z" fill="#c3c8ce"/>
<path d="M1424.8,1657.0V1687.7a4.0,4.0 0 0 0 4.0,4.0h25.9a4.0,4.0 0 0 0 4.0,-4.0V1657.0z" fill="#a9d8a5"/>
<path d="M1478.7,1657.0V1665.3a4.0,4.0 0 0 0 4.0,4.0h25.9a4.0,4.0 0 0 0 4.0,-4.0V1657.0z" fill="#c3c8ce"/>
<path d="M1607.2,1657.0V1617.6a4.0,4.0 0 0 1 4.0,-4.0h25.9a4.0,4.0 0 0 1 4.0,4.0V1657.0z" fill="#e8aeae"/>
<path d="M1789.7,1657.0V1615.4a4.0,4.0 0 0 1 4.0,-4.0h25.9a4.0,4.0 0 0 1 4.0,4.0V1657.0z" fill="#e8aeae"/>
<path d="M1843.6,1657.0V1702.9a4.0,4.0 0 0 0 4.0,4.0h25.9a4.0,4.0 0 0 0 4.0,-4.0V1657.0z" fill="#c3c8ce"/>
<path d="M1972.1,1657.0V1677.6a4.0,4.0 0 0 0 4.0,4.0h25.9a4.0,4.0 0 0 0 4.0,-4.0V1657.0z" fill="#a9d8a5"/>
<path d="M2026.0,1657.0V1662.4a4.0,4.0 0 0 0 4.0,4.0h25.9a4.0,4.0 0 0 0 4.0,-4.0V1657.0z" fill="#c3c8ce"/>
<path d="M2154.5,1657.0V1686.3a4.0,4.0 0 0 0 4.0,4.0h25.9a4.0,4.0 0 0 0 4.0,-4.0V1657.0z" fill="#a9d8a5"/>
<path d="M2208.4,1657.0V1658.1a4.0,4.0 0 0 0 4.0,4.0h25.9a4.0,4.0 0 0 0 4.0,-4.0V1657.0z" fill="#c3c8ce"/>
<path d="M2336.9,1657.0V1668.9a4.0,4.0 0 0 0 4.0,4.0h25.9a4.0,4.0 0 0 0 4.0,-4.0V1657.0z" fill="#a9d8a5"/>
<path d="M2390.8,1657.0V1665.3a4.0,4.0 0 0 0 4.0,4.0h25.9a4.0,4.0 0 0 0 4.0,-4.0V1657.0z" fill="#c3c8ce"/>
<path d="M2519.4,1657.0V1663.8a4.0,4.0 0 0 0 4.0,4.0h25.9a4.0,4.0 0 0 0 4.0,-4.0V1657.0z" fill="#a9d8a5"/>
<path d="M2573.3,1657.0V1648.3a4.0,4.0 0 0 1 4.0,-4.0h25.9a4.0,4.0 0 0 1 4.0,4.0V1657.0z" fill="#c3c8ce"/>
<path d="M2701.8,1657.0V1660.2a4.0,4.0 0 0 0 4.0,4.0h25.9a4.0,4.0 0 0 0 4.0,-4.0V1657.0z" fill="#a9d8a5"/>
<path d="M2755.7,1657.0V1657.3a4.0,4.0 0 0 0 4.0,4.0h25.9a4.0,4.0 0 0 0 4.0,-4.0V1657.0z" fill="#c3c8ce"/>
</svg>
<h2 class="t ctitle" style="left:56.3px;top:41px;font-size:28.6px;letter-spacing:0.49px;color:#14161a;-webkit-text-stroke:0.5px currentColor;">Likelihood Risk Factors Change Over Time Benchmark</h2>
<svg class="abs" style="left:865.2px;top:37.9px" width="32" height="32" viewBox="-16 -16 32 32"><circle r="12.6" fill="none" stroke="#8a8e96" stroke-width="3"/><circle cy="-5.6" r="1.9" fill="#8a8e96"/><path d="M0,-1.4V6.6" stroke="#8a8e96" stroke-width="3.2" stroke-linecap="butt"/></svg>
<i class="divider" style="top:108.7px"></i>
<span class="t dl" style="left:219.6px;top:307px;font-size:22.2px;letter-spacing:-0.90px;color:#14161a;-webkit-text-stroke:0.3px currentColor;font-family:'Liberation Sans',sans-serif;">-7.1</span>
<span class="t dl" style="left:272.8px;top:293px;font-size:22.2px;letter-spacing:-0.43px;color:#14161a;-webkit-text-stroke:0.3px currentColor;font-family:'Liberation Sans',sans-serif;">-3.2</span>
<span class="t dl" style="left:396.1px;top:189px;font-size:22.2px;letter-spacing:-0.90px;color:#14161a;-webkit-text-stroke:0.3px currentColor;font-family:'Liberation Sans',sans-serif;">12.3</span>
<span class="t dl" style="left:463.1px;top:296px;font-size:22.2px;letter-spacing:1.50px;color:#14161a;-webkit-text-stroke:0.3px currentColor;font-family:'Liberation Sans',sans-serif;">-4</span>
<span class="t dl" style="left:583.1px;top:305px;font-size:22.2px;color:#14161a;-webkit-text-stroke:0.3px currentColor;font-family:'Liberation Sans',sans-serif;">-6.7</span>
<span class="t dl" style="left:638.4px;top:289px;font-size:22.2px;letter-spacing:-0.90px;color:#14161a;-webkit-text-stroke:0.3px currentColor;font-family:'Liberation Sans',sans-serif;">-2.1</span>
<span class="t dl" style="left:765.5px;top:295px;font-size:22.2px;letter-spacing:0.05px;color:#14161a;-webkit-text-stroke:0.3px currentColor;font-family:'Liberation Sans',sans-serif;">-3.8</span>
<span class="t dl" style="left:819.9px;top:291px;font-size:22.2px;letter-spacing:-0.28px;color:#14161a;-webkit-text-stroke:0.3px currentColor;font-family:'Liberation Sans',sans-serif;">-2.7</span>
<span class="t dl" style="left:951.7px;top:190px;font-size:22.2px;letter-spacing:-0.90px;color:#14161a;-webkit-text-stroke:0.3px currentColor;font-family:'Liberation Sans',sans-serif;">12</span>
<span class="t dl" style="left:1003.2px;top:288px;font-size:22.2px;letter-spacing:-0.90px;color:#14161a;-webkit-text-stroke:0.3px currentColor;font-family:'Liberation Sans',sans-serif;">-1.8</span>
<span class="t dl" style="left:1129.6px;top:298px;font-size:22.2px;letter-spacing:0.53px;color:#14161a;-webkit-text-stroke:0.3px currentColor;font-family:'Liberation Sans',sans-serif;">-4.6</span>
<span class="t dl" style="left:1183.5px;top:298px;font-size:22.2px;letter-spacing:0.53px;color:#14161a;-webkit-text-stroke:0.3px currentColor;font-family:'Liberation Sans',sans-serif;">-4.6</span>
<span class="t dl" style="left:1312.6px;top:316px;font-size:22.2px;letter-spacing:0.14px;color:#14161a;-webkit-text-stroke:0.3px currentColor;font-family:'Liberation Sans',sans-serif;">-9.6</span>
<span class="t dl" style="left:1366.4px;top:293px;font-size:22.2px;letter-spacing:0.24px;color:#14161a;-webkit-text-stroke:0.3px currentColor;font-family:'Liberation Sans',sans-serif;">-3.4</span>
<span class="t dl" style="left:1499.0px;top:190px;font-size:22.2px;letter-spacing:-0.90px;color:#14161a;-webkit-text-stroke:0.3px currentColor;font-family:'Liberation Sans',sans-serif;">12</span>
<span class="t dl" style="left:1550.8px;top:233px;font-size:22.2px;letter-spacing:-0.90px;color:#14161a;-webkit-text-stroke:0.3px currentColor;font-family:'Liberation Sans',sans-serif;">0.1</span>
<span class="t dl" style="left:1673.1px;top:187px;font-size:22.2px;letter-spacing:-0.90px;color:#14161a;-webkit-text-stroke:0.3px currentColor;font-family:'Liberation Sans',sans-serif;">12.6</span>
<span class="t dl" style="left:1859.6px;top:306px;font-size:22.2px;letter-spacing:0.33px;color:#14161a;-webkit-text-stroke:0.3px currentColor;font-family:'Liberation Sans',sans-serif;">-6.8</span>
<span class="t dl" style="left:1914.3px;top:291px;font-size:22.2px;letter-spacing:-0.14px;color:#14161a;-webkit-text-stroke:0.3px currentColor;font-family:'Liberation Sans',sans-serif;">-2.6</span>
<span class="t dl" style="left:2042.8px;top:314px;font-size:22.2px;letter-spacing:-0.14px;color:#14161a;-webkit-text-stroke:0.3px currentColor;font-family:'Liberation Sans',sans-serif;">-9.2</span>
<span class="t dl" style="left:2097.8px;top:286px;font-size:22.2px;letter-spacing:-0.90px;color:#14161a;-webkit-text-stroke:0.3px currentColor;font-family:'Liberation Sans',sans-serif;">-1.4</span>
<span class="t dl" style="left:2223.6px;top:297px;font-size:22.2px;letter-spacing:0.91px;color:#14161a;-webkit-text-stroke:0.3px currentColor;font-family:'Liberation Sans',sans-serif;">-4.4</span>
<span class="t dl" style="left:2278.5px;top:293px;font-size:22.2px;letter-spacing:0.24px;color:#14161a;-webkit-text-stroke:0.3px currentColor;font-family:'Liberation Sans',sans-serif;">-3.4</span>
<span class="t dl" style="left:2416.8px;top:292px;font-size:22.2px;letter-spacing:-0.34px;color:#14161a;-webkit-text-stroke:0.3px currentColor;font-family:'Liberation Sans',sans-serif;">-3</span>
<span class="t dl" style="left:2462.9px;top:220px;font-size:22.2px;letter-spacing:-0.90px;color:#14161a;-webkit-text-stroke:0.3px currentColor;font-family:'Liberation Sans',sans-serif;">3.5</span>
<span class="t dl" style="left:2599.3px;top:288px;font-size:22.2px;letter-spacing:-0.34px;color:#14161a;-webkit-text-stroke:0.3px currentColor;font-family:'Liberation Sans',sans-serif;">-2</span>
<span class="t dl" style="left:2645.1px;top:286px;font-size:22.2px;letter-spacing:-0.90px;color:#14161a;-webkit-text-stroke:0.3px currentColor;font-family:'Liberation Sans',sans-serif;">-1.2</span>
<span class="t yl" style="left:114.0px;top:166px;font-size:21.5px;letter-spacing:1.54px;color:#14161a;font-family:'Liberation Sans',sans-serif;">25</span>
<span class="t yl" style="left:127.2px;top:258px;font-size:21.5px;color:#14161a;font-family:'Liberation Sans',sans-serif;">0</span>
<span class="t rot" style="left:46.3px;top:431.5px;font-size:23.5px;letter-spacing:0.43px;-webkit-text-stroke:0.4px currentColor;color:#14161a">Factor Score Change</span>
</section>
</main>
<a class="totop"><svg class="abs" style="left:14px;top:20px" width="52" height="40" viewBox="2915 1608 52 40"><path d="M2923.4,1637.6L2941.2,1619.4L2959,1637.6" fill="none" stroke="#eef0ff" stroke-width="6.4" stroke-linecap="butt"/></svg></a>
<div class="sbthumb"></div>
</div>
<script>(function(){var w=window.innerWidth;if(w&&Math.abs(w-3002)>2){var s=w/3002,a=document.querySelector(".app"),h=document.documentElement,b=document.body;a.style.transformOrigin="0 0";a.style.transform="scale("+s+")";h.style.width=b.style.width=w+"px";h.style.height=b.style.height=(1716*s)+"px";}})();</script>
</body></html>
